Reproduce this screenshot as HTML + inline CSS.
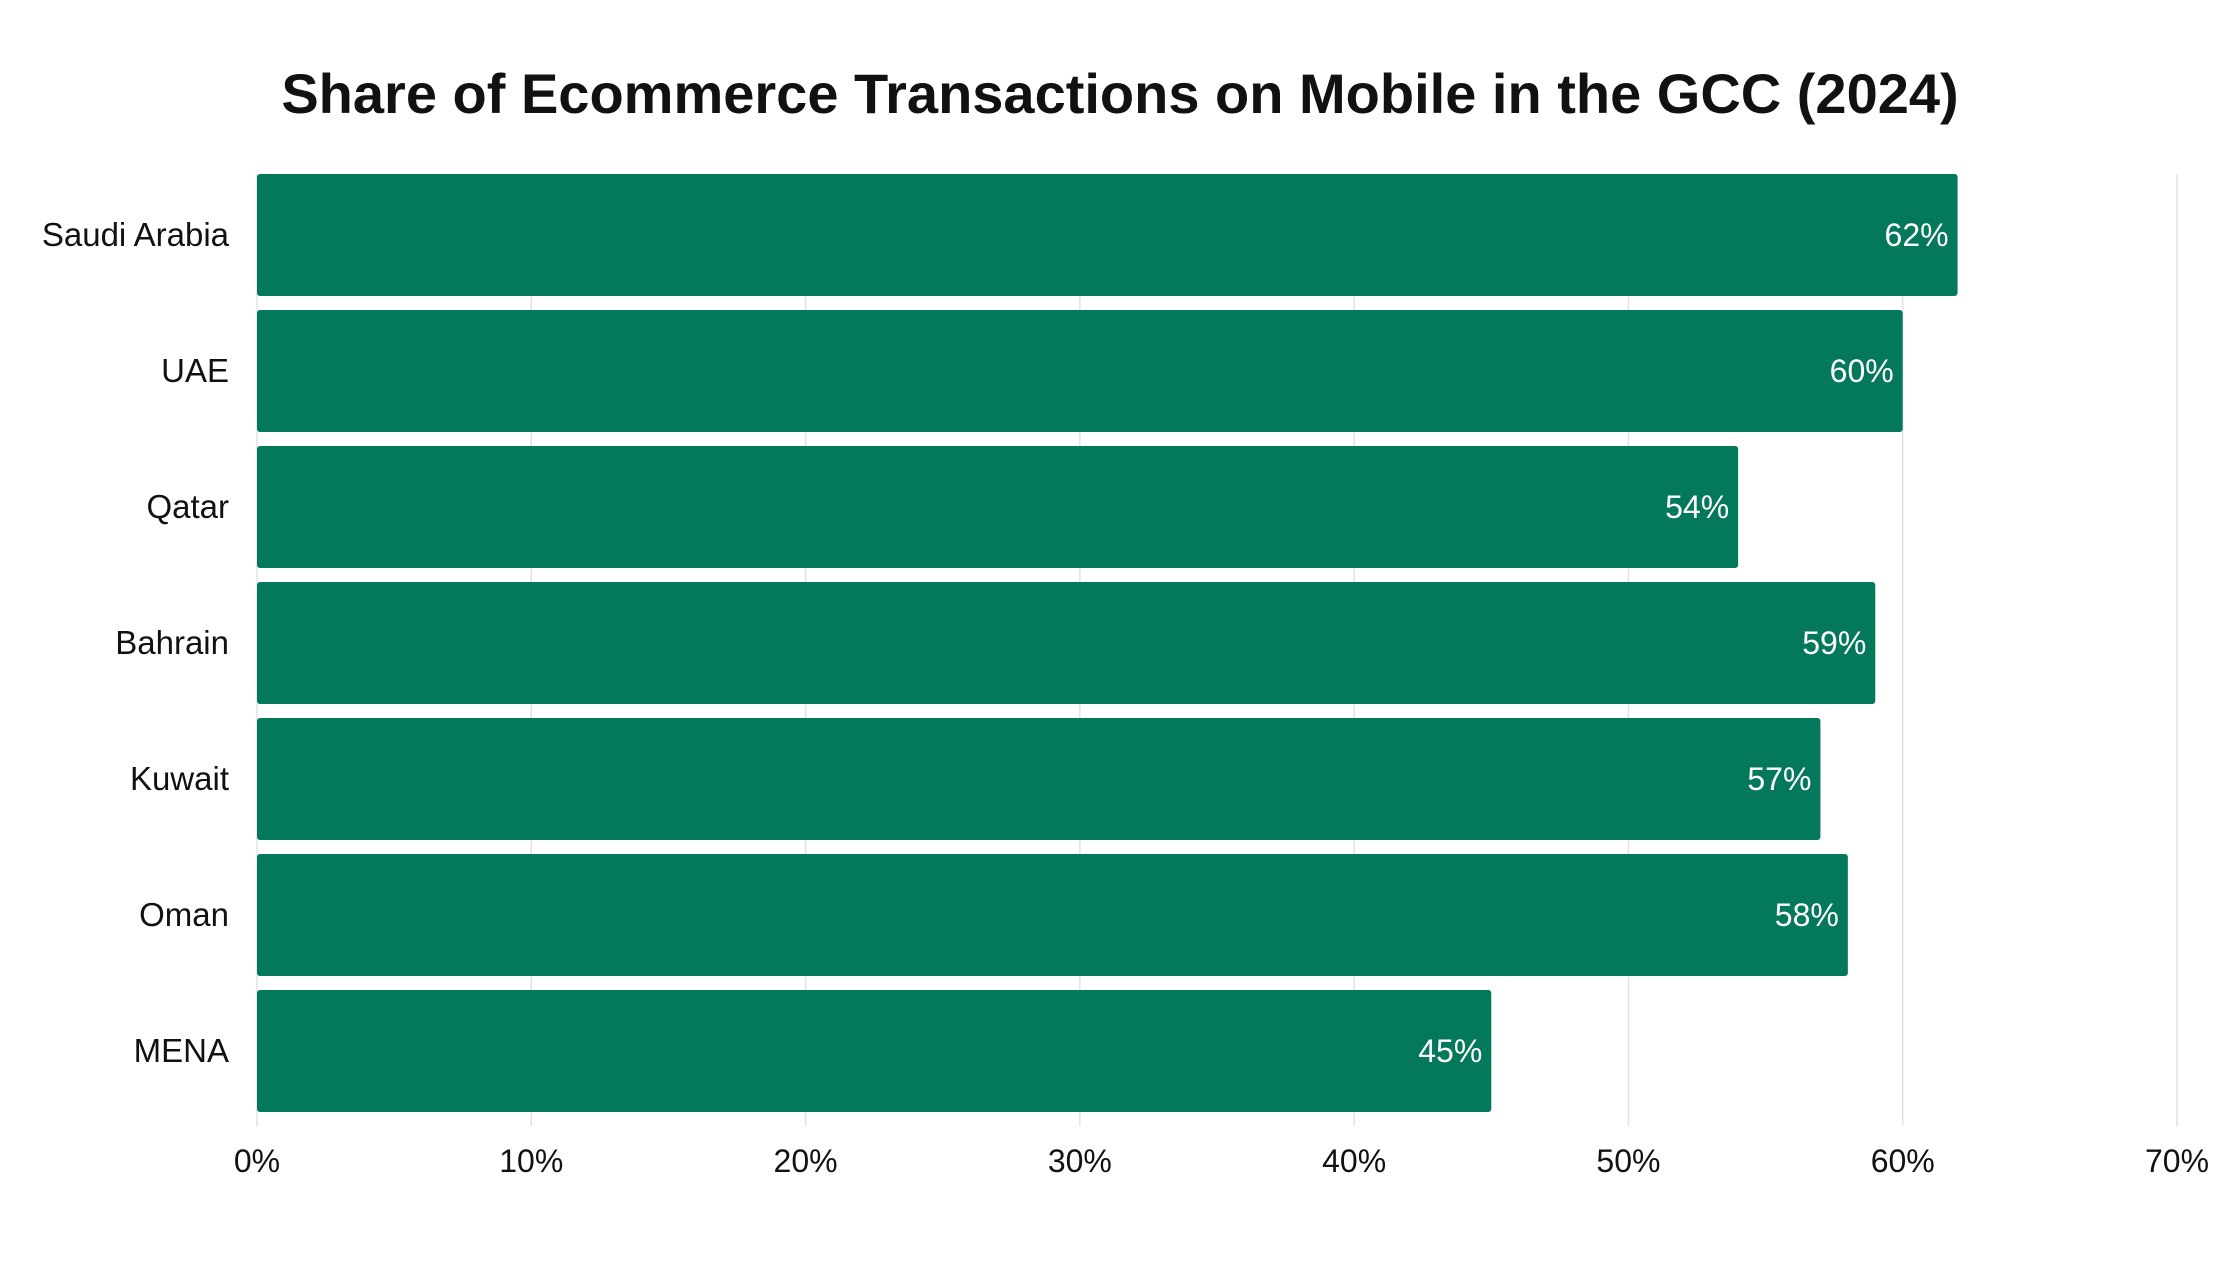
<!DOCTYPE html>
<html><head><meta charset="utf-8"><style>
body{margin:0;background:#fff;}
svg text{font-family:"Liberation Sans",sans-serif;}
</style></head><body>
<svg id="chart" width="2240" height="1260" viewBox="0 0 2240 1260" xmlns="http://www.w3.org/2000/svg">
<rect width="2240" height="1260" fill="#fff"/>
<text x="1120" y="113" text-anchor="middle" font-size="56" font-weight="bold" fill="#111">Share of Ecommerce Transactions on Mobile in the GCC (2024)</text>
<g id="grid"></g><g id="bars"></g><g id="labels"></g><g id="ticks"></g>
</svg>
<script>
const categories=["Saudi Arabia","UAE","Qatar","Bahrain","Kuwait","Oman","MENA"];
const values=[62,60,54,59,57,58,45];
const tickValues=[0,10,20,30,40,50,60,70];
const tickLabels=["0%","10%","20%","30%","40%","50%","60%","70%"];
const NS="http://www.w3.org/2000/svg";
const x0=257,x1=2177,plotTop=174,plotBottom=1126,maxV=70;
const xs=v=>x0+(x1-x0)*v/maxV;
const pitch=(plotBottom-plotTop)/categories.length, bh=pitch-14;
function mk(t,a,p){const e=document.createElementNS(NS,t);for(const k in a)e.setAttribute(k,a[k]);p.appendChild(e);return e;}
const grid=document.getElementById('grid'),bars=document.getElementById('bars'),labels=document.getElementById('labels'),ticks=document.getElementById('ticks');
tickValues.forEach((v,i)=>{
  const l=mk('line',{x1:xs(v),x2:xs(v),y1:plotTop,y2:plotBottom,stroke:'#e2e2e2','stroke-width':1.5},grid);
  
  
  const t=mk('text',{x:xs(v),y:1172,'text-anchor':'middle','font-size':32,fill:'#111'},ticks);
  t.textContent=tickLabels[i];
  
  
});
categories.forEach((c,i)=>{
  const y=plotTop+i*pitch;
  const r=mk('rect',{x:x0,y:y,width:xs(values[i])-x0,height:bh,rx:3,fill:'#04785a'},bars);
  
  
  const t=mk('text',{x:229,y:y+bh/2+11,'text-anchor':'end','font-size':33,fill:'#111'},labels);
  t.textContent=c;
  
  
  const v=mk('text',{x:xs(values[i])-9,y:y+bh/2+11,'text-anchor':'end','font-size':32,fill:'#fff'},labels);
  v.textContent=values[i]+'%';
  
  
});
</script>
</body></html>
